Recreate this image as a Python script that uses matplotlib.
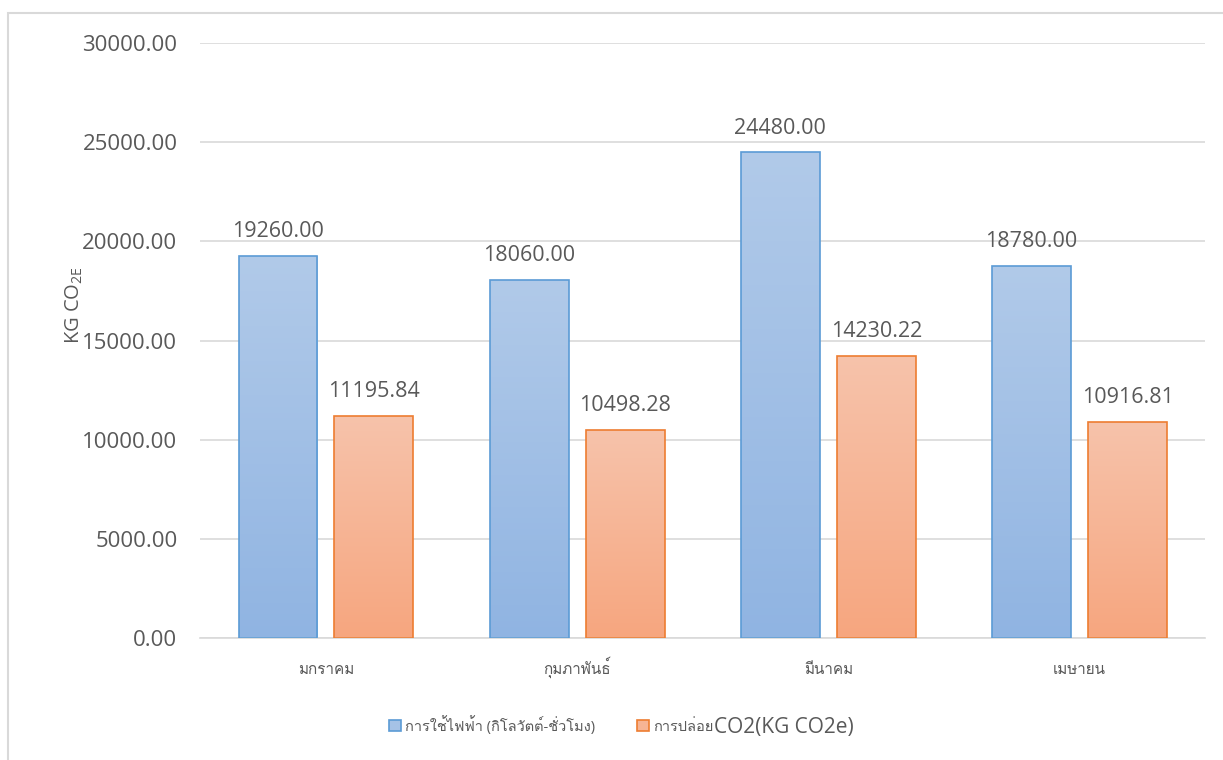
import matplotlib
matplotlib.use('Agg')
import matplotlib.pyplot as plt
import matplotlib.patches as mpatches
from matplotlib import font_manager
from matplotlib.ft2font import FT2Font
import numpy as np

# data
months = ['มกราคม', 'กุมภาพันธ์', 'มีนาคม', 'เมษายน']
power_kwh = [19260.00, 18060.00, 24480.00, 18780.00]
co2_kg = [11195.84, 10498.28, 14230.22, 10916.81]
series_names = ['การใช้ไฟฟ้า (กิโลวัตต์-ชั่วโมง)', 'การปล่อย']
series2_tail = 'CO2(KG CO2e)'
y_ticks = [0, 5000, 10000, 15000, 20000, 25000, 30000]


# look for an installed font that has Thai glyphs
def find_thai_font():
    for f in font_manager.fontManager.ttflist:
        try:
            cmap = FT2Font(f.fname).get_charmap()
        except Exception:
            continue
        if 0x0E01 in cmap and 0x0E21 in cmap:
            return f.name
    return None


thai = find_thai_font()
fams = ['Open Sans', 'DejaVu Sans']
if thai:
    fams = ['Open Sans', thai, 'DejaVu Sans']
plt.rcParams['font.family'] = fams

grey_txt = '#595959'
grid_col = '#d9d9d9'

fig = plt.figure(figsize=(12.23, 7.6), dpi=100)
ax = fig.add_axes([0.1638, 0.1605, 0.8217, 0.7829])

# chart area border (only top and left visible in the crop)
fig.patches.append(mpatches.Rectangle((0.0062, -0.1), 1.2, 1.083, transform=fig.transFigure,
                                      fill=False, edgecolor=grid_col, linewidth=1.5))

x = np.arange(len(months))
w = 0.314
off = 0.191


def gradient_bars(xs, vals, top_col, bot_col, edge):
    bars = ax.bar(xs, vals, width=w, facecolor='none', edgecolor=edge, linewidth=1.2, zorder=3)
    grad = np.linspace(0, 1, 256).reshape(-1, 1)
    cmap = matplotlib.colors.LinearSegmentedColormap.from_list('g', [bot_col, top_col])
    for b in bars:
        x0 = b.get_x()
        h = b.get_height()
        im = ax.imshow(grad, cmap=cmap, aspect='auto', origin='lower',
                       extent=[x0, x0 + w, 0, h], zorder=2)
        im.set_clip_path(b)
    return bars


b1 = gradient_bars(x - off, power_kwh, '#b1cae9', '#90b4e2', '#5b9bd5')
b2 = gradient_bars(x + off, co2_kg, '#f7c3ab', '#f6a67f', '#ed7d31')

for xs, vals in [(x - off, power_kwh), (x + off, co2_kg)]:
    for xi, v in zip(xs, vals):
        ax.annotate('%.2f' % v, (xi, v), xytext=(0, 10), textcoords='offset points',
                    ha='center', va='bottom', fontsize=15.5, color=grey_txt)

ax.set_xlim(-0.5, 3.5)
ax.set_ylim(0, 30000)
ax.set_yticks(y_ticks)
ax.set_yticklabels(['%.2f' % t for t in y_ticks])
ax.set_xticks(x)
ax.set_xticklabels(months, va='baseline')
ax.tick_params(axis='y', length=0, pad=16.5, labelsize=16, labelcolor=grey_txt)
ax.tick_params(axis='x', length=0, pad=26, labelsize=11, labelcolor=grey_txt)
ax.grid(axis='y', color=grid_col, linewidth=1.2, zorder=0)
ax.set_axisbelow(True)
for s in ['top', 'right', 'left']:
    ax.spines[s].set_visible(False)
ax.spines['bottom'].set_color(grid_col)
ax.spines['bottom'].set_linewidth(1.2)

ax.set_ylabel(r'KG CO$_\mathregular{2E}$', fontsize=14.5, color=grey_txt)
ax.yaxis.set_label_coords(-0.115, 0.56)

handles = [mpatches.Patch(facecolor='#a5c2e6', edgecolor='#5b9bd5', linewidth=1.2),
           mpatches.Patch(facecolor='#f6b494', edgecolor='#ed7d31', linewidth=1.2)]
leg = fig.legend(handles, series_names, loc='center left', bbox_to_anchor=(0.318, 0.046),
                 ncol=2, frameon=False, fontsize=10.5, labelcolor=grey_txt, handlelength=0.8,
                 handleheight=0.8, handletextpad=0.3, columnspacing=2.9,
                 borderpad=0, borderaxespad=0)

# the latin part of the second legend entry is drawn bigger, as in the original
fig.canvas.draw()
bb = leg.get_texts()[1].get_window_extent()
fig.text(bb.x1 / fig.bbox.width, (bb.y0 + bb.y1) / 2 / fig.bbox.height, series2_tail,
         fontsize=15, color=grey_txt, ha='left', va='center')

fig.savefig('out.png', dpi=100)
